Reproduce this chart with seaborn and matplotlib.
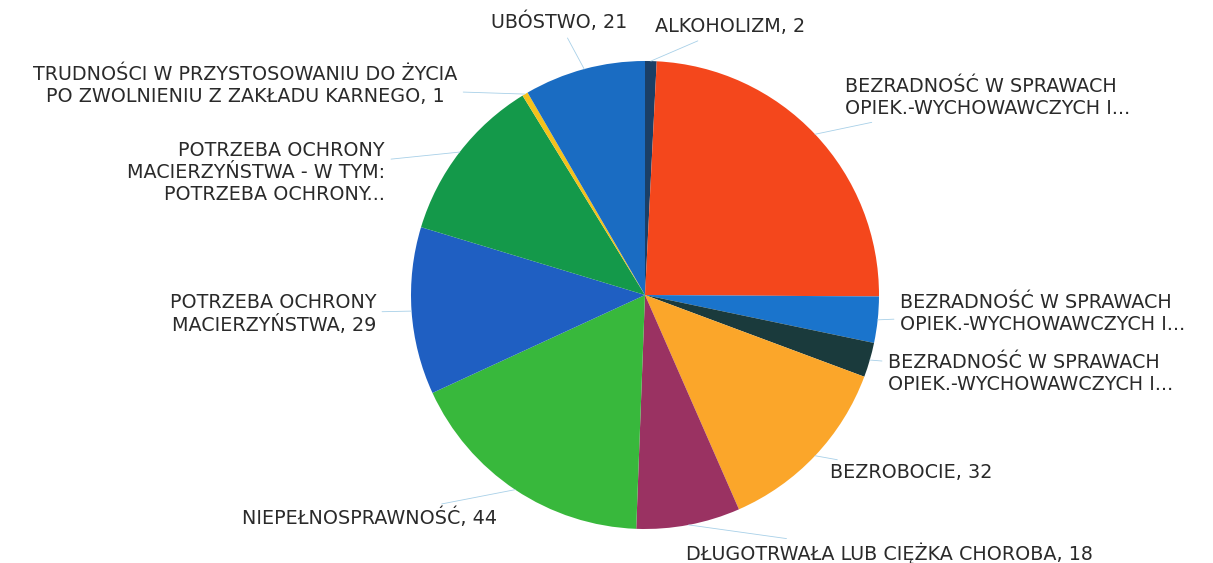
import numpy as np
import seaborn as sns
import matplotlib.pyplot as plt

sns.set_theme(style="white")
plt.rcParams['font.family'] = ['DejaVu Sans']

# Data (clockwise from 12 o'clock)
labels = [
    "ALKOHOLIZM, 2",
    "BEZRADNOŚĆ W SPRAWACH\nOPIEK.-WYCHOWAWCZYCH I...",
    "BEZRADNOŚĆ W SPRAWACH\nOPIEK.-WYCHOWAWCZYCH I...",
    "BEZRADNOŚĆ W SPRAWACH\nOPIEK.-WYCHOWAWCZYCH I...",
    "BEZROBOCIE, 32",
    "DŁUGOTRWAŁA LUB CIĘŻKA CHOROBA, 18",
    "NIEPEŁNOSPRAWNOŚĆ, 44",
    "POTRZEBA OCHRONY\nMACIERZYŃSTWA, 29",
    "POTRZEBA OCHRONY\nMACIERZYŃSTWA - W TYM:\nPOTRZEBA OCHRONY...",
    "TRUDNOŚCI W PRZYSTOSOWANIU DO ŻYCIA\nPO ZWOLNIENIU Z ZAKŁADU KARNEGO, 1",
    "UBÓSTWO, 21",
]
values = [2, 61, 8, 6, 32, 18, 44, 29, 29, 1, 21]
colors = ["#1b3f66", "#f4471c", "#1a74cc", "#1a3a3c", "#fba62a", "#9a3262",
          "#38b83c", "#1f5fc2", "#14994a", "#f4c21c", "#1a6cc2"]

# label placement in pixels (x, y from top), alignment
label_px = [(655, 27, "left"), (845, 98, "left"), (900, 313, "left"),
            (888, 373, "left"), (830, 473, "left"), (686, 553, "left"),
            (497, 518, "right"), (376, 314, "right"), (385, 173, "right"),
            (245, 85, "center"), (627, 22, "right")]

W, H = 1213, 563
cx, cy, R = 645, 295, 234

fig = plt.figure(figsize=(W / 100, H / 100), dpi=100)
ax = fig.add_axes([0, 0, 1, 1])
wedges, _ = ax.pie(values, colors=colors, startangle=90, counterclock=False,
                   radius=1, wedgeprops=dict(linewidth=0))

for w, lab, (px, py, ha) in zip(wedges, labels, label_px):
    ang = np.deg2rad((w.theta1 + w.theta2) / 2)
    xy = (np.cos(ang) * 1.0, np.sin(ang) * 1.0)
    xt = ((px - cx) / R, (cy - py) / R)
    ax.annotate(lab, xy=xy, xytext=xt, ha=ha, va="center",
                multialignment=ha, fontsize=13.8, color="#2a2a2a",
                linespacing=1.2,
                arrowprops=dict(arrowstyle="-", color="#a8d0e8", lw=0.6,
                                shrinkA=2, shrinkB=0))

ax.set_xlim(-cx / R, (W - cx) / R)
ax.set_ylim(-(H - cy) / R, cy / R)
ax.set_aspect("auto")
ax.axis("off")

fig.savefig("out.png", dpi=100, facecolor="white")
